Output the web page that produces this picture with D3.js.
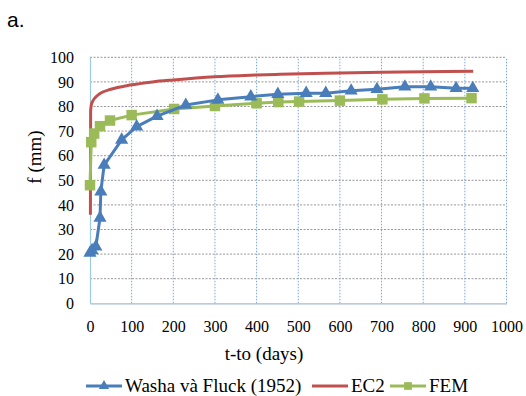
<!DOCTYPE html>
<html>
<head>
<meta charset="utf-8">
<script src="https://cdn.jsdelivr.net/npm/d3@7"></script>
<style>
  body { margin: 0; background: #fff; }
  svg text { font-family: "Liberation Serif", "Times New Roman", Times, "DejaVu Serif", serif; fill: #000; }
</style>
</head>
<body>
<div id="chart"></div>
<script>
// Washa và Fluck (1952) measurements
const washaT = [0, 5, 14, 24, 26, 34, 76, 112, 161, 230, 307, 386, 451, 519, 566, 627, 689, 756, 818, 879, 919];
const washaF = [20.5, 21.5, 23, 34.7, 45.4, 56.2, 66.4, 71.8, 76.1, 80.6, 82.7, 84, 85, 85.4, 85.4, 86.4, 87, 88, 88, 87.4, 87.4];

// EC2 curve
const ec2T = [1, 1.5, 3, 6, 12, 24, 50, 96, 150, 200, 300, 400, 456, 600, 700, 800, 920];
const ec2F = [36, 78, 80.5, 82, 83.5, 85.3, 87, 88.7, 90, 90.8, 92.1, 92.8, 93.1, 93.6, 93.9, 94.1, 94.3];

// FEM results
const femT = [0, 3, 10, 24, 48, 100, 202, 300, 400, 452, 502, 600, 702, 803, 916];
const femF = [48, 65.5, 69, 72, 74.3, 76.5, 79, 80.2, 81.3, 81.8, 82, 82.4, 82.9, 83.3, 83.4];

const xTicks = [0, 100, 200, 300, 400, 500, 600, 700, 800, 900, 1000];
const yTicks = [0, 10, 20, 30, 40, 50, 60, 70, 80, 90, 100];

const WIDTH = 526, HEIGHT = 396;
const margin = {left: 90, right: 19.5, top: 57.3, bottom: 92.7};
const SERIF = "'Liberation Serif', 'Times New Roman', Times, 'DejaVu Serif', serif";

const blue = "#4a7ebb", red = "#c0504d", green = "#9bbb59";

const svg = d3.select("#chart").append("svg")
    .attr("width", WIDTH)
    .attr("height", HEIGHT)
    .attr("font-family", SERIF);

const x = d3.scaleLinear().domain([0, 1000]).range([margin.left, WIDTH - margin.right]);
const y = d3.scaleLinear().domain([0, 100]).range([HEIGHT - margin.bottom, margin.top]);

// panel letter
svg.append("text")
    .attr("x", 7).attr("y", 27)
    .style("font-family", "'Liberation Sans', Arial, sans-serif")
    .style("font-size", "21px")
    .text("a.");

// grid
svg.append("g")
    .selectAll("line")
    .data(yTicks.slice(1))
    .join("line")
    .attr("x1", x(0)).attr("x2", x(1000))
    .attr("y1", d => y(d)).attr("y2", d => y(d))
    .attr("stroke", "#8c8c8c")
    .attr("stroke-width", 0.9)
    .attr("stroke-dasharray", "2,1.5");

svg.append("g")
    .selectAll("line")
    .data(xTicks.slice(1))
    .join("line")
    .attr("x1", d => x(d)).attr("x2", d => x(d))
    .attr("y1", y(0)).attr("y2", y(100))
    .attr("stroke", "#6d9bd1")
    .attr("stroke-width", 0.9)
    .attr("stroke-dasharray", "1.5,1.5");

// axes
const xAxis = svg.append("g")
    .attr("transform", `translate(0,${y(0)})`)
    .call(d3.axisBottom(x).tickValues(xTicks).tickFormat(d3.format("d")).tickSize(0).tickPadding(17))
    .attr("font-family", SERIF)
    .attr("font-size", 16);
xAxis.select(".domain").attr("stroke", "#a6b9cf").attr("stroke-width", 1.2);

const yAxis = svg.append("g")
    .attr("transform", `translate(${x(0)},0)`)
    .call(d3.axisLeft(y).tickValues(yTicks).tickFormat(d3.format("d")).tickSize(0).tickPadding(16))
    .attr("font-family", SERIF)
    .attr("font-size", 16);
yAxis.select(".domain").attr("stroke", "#9ccbe0").attr("stroke-width", 1.2);

// axis titles
svg.append("text")
    .attr("x", 264).attr("y", 360)
    .attr("text-anchor", "middle")
    .style("font-size", "19px")
    .text("t-to (days)");

svg.append("text")
    .attr("transform", "translate(41,157) rotate(-90)")
    .attr("text-anchor", "middle")
    .style("font-size", "19px")
    .text("f (mm)");

// series
const series = [
    {name: "Washa và Fluck (1952)", t: washaT, f: washaF, color: blue, marker: "triangle", curve: d3.curveLinear},
    {name: "EC2", t: ec2T, f: ec2F, color: red, marker: null, curve: d3.curveMonotoneX},
    {name: "FEM", t: femT, f: femF, color: green, marker: "square", curve: d3.curveLinear}
];

const drawOrder = [series[1], series[2], series[0]];

const markerPath = (kind, size) => d3.symbol()
    .type(kind === "triangle" ? d3.symbolTriangle : d3.symbolSquare)
    .size(size)();

drawOrder.forEach(s => {
    const pts = s.t.map((t, i) => [t, s.f[i]]);
    const line = d3.line().x(d => x(d[0])).y(d => y(d[1])).curve(s.curve);
    svg.append("path")
        .datum(pts)
        .attr("d", line)
        .attr("fill", "none")
        .attr("stroke", s.color)
        .attr("stroke-width", 3)
        .attr("stroke-linejoin", "round");
    if (s.marker) {
        svg.append("g")
            .selectAll("path")
            .data(pts)
            .join("path")
            .attr("transform", d => `translate(${x(d[0])},${y(d[1])})`)
            .attr("d", markerPath(s.marker, s.marker === "triangle" ? 75 : 110))
            .attr("fill", s.color);
    }
});

// legend
const legendY = 386;
const legendItems = [
    {s: series[0], x0: 86},
    {s: series[1], x0: 312},
    {s: series[2], x0: 390}
];
const legend = svg.append("g");
legendItems.forEach(item => {
    const g = legend.append("g");
    g.append("line")
        .attr("x1", item.x0).attr("x2", item.x0 + 36)
        .attr("y1", legendY).attr("y2", legendY)
        .attr("stroke", item.s.color)
        .attr("stroke-width", 3);
    if (item.s.marker) {
        g.append("path")
            .attr("transform", `translate(${item.x0 + 18},${legendY})`)
            .attr("d", markerPath(item.s.marker, item.s.marker === "triangle" ? 45 : 60))
            .attr("fill", item.s.color);
    }
    g.append("text")
        .attr("x", item.x0 + 39).attr("y", legendY + 6)
        .style("font-size", "19px")
        .text(item.s.name);
});
</script>
</body>
</html>
